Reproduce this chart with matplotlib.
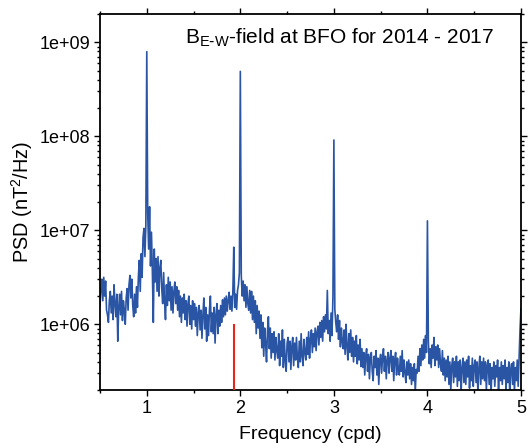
import numpy as np
import matplotlib
matplotlib.use("Agg")
import matplotlib.pyplot as plt
from matplotlib.ticker import FixedLocator, FuncFormatter, LogLocator, NullFormatter

plt.rcParams["font.family"] = ["Liberation Sans", "DejaVu Sans"]
plt.rcParams["mathtext.default"] = "regular"

# frequency grid (cpd), 0.01 spacing from 0.50 to 5.00
freq = np.round(np.arange(0.50, 5.001, 0.01), 2)

# log10 of PSD (nT^2/Hz), one row per 0.1 cpd
log_psd = [
    6.20, 6.38, 6.48, 6.25, 6.50, 6.30, 6.46, 6.15, 6.10, 6.02,
    6.25, 6.35, 6.12, 6.30, 6.05, 6.42, 6.22, 6.08, 6.32, 5.82,
    6.18, 6.32, 6.10, 6.35, 6.04, 6.25, 6.15, 6.00, 6.28, 6.38,
    6.15, 6.42, 6.52, 6.28, 6.48, 6.20, 6.08, 6.32, 6.12, 6.40,
    6.18, 6.50, 6.68, 6.35, 6.75, 6.50, 6.92, 7.02, 6.72, 7.05,
    8.90, 7.18, 6.80, 7.25, 6.62, 6.98, 6.55, 6.02, 6.80, 6.45,
    6.70, 6.35, 6.72, 6.30, 6.60, 6.68, 6.38, 6.22, 6.55, 6.25,
    6.05, 6.42, 6.20, 6.50, 6.25, 6.45, 6.15, 6.40, 6.12, 6.35,
    6.45, 6.22, 6.40, 6.15, 6.36, 6.08, 6.30, 6.02, 6.28, 6.12,
    6.32, 6.05, 6.25, 5.98, 6.22, 6.30, 6.00, 6.20, 5.95, 6.25,
    6.05, 6.22, 5.98, 6.18, 5.88, 6.12, 6.20, 5.94, 6.15, 5.85,
    6.10, 6.28, 5.95, 6.18, 5.82, 6.10, 5.88, 6.15, 6.30, 5.92,
    6.12, 5.90, 6.18, 5.80, 6.10, 6.22, 5.90, 6.15, 5.98, 6.20,
    6.02, 6.26, 6.08, 6.28, 6.10, 6.30, 6.14, 6.25, 6.34, 6.16,
    6.30, 6.14, 6.34, 6.82, 6.18, 6.32, 6.16, 6.36, 6.42, 6.55,
    8.69, 6.52, 6.30, 6.46, 6.25, 6.42, 6.18, 6.40, 6.22, 6.15,
    6.36, 6.12, 6.35, 6.05, 6.30, 6.02, 6.25, 5.90, 6.20, 5.96,
    6.14, 5.85, 6.10, 5.75, 6.02, 5.66, 5.96, 5.80, 5.60, 5.92,
    6.08, 5.74, 5.96, 5.64, 5.90, 5.70, 5.92, 5.62, 5.86, 5.72,
    5.64, 5.90, 5.56, 5.82, 5.66, 5.94, 5.54, 5.84, 5.62, 5.50,
    5.80, 5.86, 5.60, 5.82, 5.52, 5.76, 5.86, 5.56, 5.80, 5.62,
    5.86, 5.64, 5.54, 5.82, 5.60, 5.90, 5.66, 5.56, 5.84, 5.70,
    5.62, 5.86, 5.68, 5.92, 5.64, 5.84, 5.94, 5.70, 5.90, 5.76,
    5.96, 5.72, 5.92, 5.98, 5.78, 6.02, 5.86, 6.04, 5.82, 6.08,
    5.92, 6.10, 5.95, 6.36, 5.90, 6.04, 5.82, 6.12, 5.88, 6.30,
    7.96, 6.16, 6.02, 5.92, 6.10, 5.84, 6.04, 5.76, 5.96, 5.82,
    5.74, 5.94, 5.68, 6.00, 5.76, 5.62, 5.90, 5.70, 5.94, 5.66,
    5.86, 5.60, 5.82, 5.66, 5.88, 5.58, 5.78, 5.62, 5.84, 5.55,
    5.74, 5.54, 5.70, 5.46, 5.66, 5.74, 5.50, 5.68, 5.42, 5.64,
    5.70, 5.50, 5.40, 5.66, 5.54, 5.72, 5.46, 5.64, 5.36, 5.62,
    5.68, 5.48, 5.64, 5.74, 5.50, 5.66, 5.42, 5.62, 5.70, 5.48,
    5.64, 5.72, 5.50, 5.66, 5.40, 5.62, 5.70, 5.46, 5.64, 5.52,
    5.46, 5.66, 5.50, 5.72, 5.44, 5.62, 5.48, 5.38, 5.60, 5.46,
    5.62, 5.42, 5.58, 5.36, 5.54, 5.40, 5.58, 5.28, 5.52, 5.48,
    5.66, 5.50, 5.74, 5.56, 5.78, 5.62, 5.84, 5.64, 5.88, 5.70,
    7.10, 5.82, 5.58, 5.74, 5.54, 5.78, 5.64, 5.86, 5.56, 5.76,
    5.62, 5.78, 5.54, 5.74, 5.58, 5.50, 5.72, 5.46, 5.64, 5.40,
    5.62, 5.44, 5.66, 5.36, 5.60, 5.30, 5.56, 5.64, 5.38, 5.60,
    5.44, 5.66, 5.34, 5.60, 5.40, 5.62, 5.28, 5.54, 5.64, 5.38,
    5.60, 5.36, 5.62, 5.44, 5.66, 5.32, 5.56, 5.40, 5.64, 5.34,
    5.56, 5.62, 5.38, 5.60, 5.26, 5.54, 5.66, 5.36, 5.60, 5.42,
    5.64, 5.40, 5.60, 5.30, 5.56, 5.62, 5.36, 5.58, 5.26, 5.54,
    5.42, 5.60, 5.34, 5.56, 5.44, 5.62, 5.30, 5.54, 5.40, 5.60,
    5.36, 5.56, 5.42, 5.62, 5.30, 5.54, 5.38, 5.60, 5.26, 5.52,
    5.58, 5.36, 5.60, 5.28, 5.54, 5.40, 5.62, 5.34, 5.66, 5.95,
    6.17,
]
psd = 10.0 ** np.array(log_psd)

marker_freq = 1.93
marker_top = 1e6

fig = plt.figure(figsize=(5.28, 4.48), dpi=100)
ax = fig.add_axes([0.1894, 0.1295, 0.7973, 0.8393])

ax.plot(freq, psd, color="#2a55a5", lw=1.2)
ax.set_yscale("log")
ax.set_xlim(0.5, 5.0)
ax.set_ylim(2e5, 2e9)
ax.vlines(marker_freq, 2e5, marker_top, color="#e8251c", lw=1.5, zorder=3)

ax.xaxis.set_major_locator(FixedLocator([1, 2, 3, 4, 5]))
ax.xaxis.set_minor_locator(FixedLocator([0.5, 1.5, 2.5, 3.5, 4.5]))
ax.yaxis.set_major_locator(FixedLocator([1e6, 1e7, 1e8, 1e9]))
ax.yaxis.set_major_formatter(FuncFormatter(lambda v, p: "1e+%02d" % round(np.log10(v))))
ax.yaxis.set_minor_locator(LogLocator(base=10, subs=np.arange(2, 10), numticks=20))
ax.yaxis.set_minor_formatter(NullFormatter())

ax.tick_params(which="both", direction="out", top=True, right=True,
               labelsize=13, width=1.0, pad=3)
ax.tick_params(which="major", length=4)
ax.tick_params(which="minor", length=2.5)
for s in ax.spines.values():
    s.set_linewidth(1.3)

ax.set_xlabel("Frequency (cpd)", fontsize=14, labelpad=7)
ax.set_ylabel("PSD (nT$^2$/Hz)", fontsize=14.3, labelpad=3)
ax.text(0.568, 0.936, r"B$_{E\text{-}W}$-field at BFO for 2014 - 2017",
        transform=ax.transAxes, ha="center", va="center", fontsize=15)

fig.savefig("out.png", dpi=100)
